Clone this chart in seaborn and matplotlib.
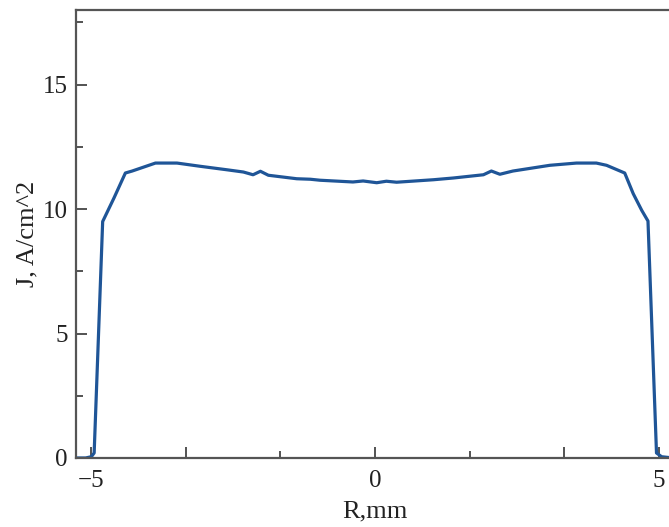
import matplotlib
matplotlib.use("Agg")
import pandas as pd
import matplotlib.pyplot as plt
import seaborn as sns
from matplotlib.ticker import FixedLocator

r_mm = [-5.25, -5.1, -5.0, -4.95, -4.8, -4.6, -4.4, -4.28, -3.87, -3.49, -3.08,
        -2.61, -2.32, -2.15, -2.02, -1.88, -1.38, -1.14, -0.97, -0.39, -0.21,
        0.03, 0.2, 0.38, 1.03, 1.38, 1.91, 2.05, 2.2, 2.43, 3.08, 3.55, 3.9,
        4.08, 4.4, 4.55, 4.7, 4.81, 4.96, 5.05, 5.25]
j_acm2 = [0.0, 0.0, 0.05, 0.2, 9.5, 10.45, 11.45, 11.53, 11.85, 11.85, 11.72,
          11.58, 11.49, 11.38, 11.52, 11.36, 11.22, 11.2, 11.16, 11.09, 11.13,
          11.06, 11.12, 11.08, 11.18, 11.25, 11.38, 11.53, 11.4, 11.53, 11.76,
          11.85, 11.85, 11.76, 11.45, 10.62, 9.95, 9.52, 0.2, 0.05, 0.0]

df = pd.DataFrame({'R': r_mm, 'J': j_acm2})

sns.set_style("ticks")
plt.rcParams['font.family'] = ['Liberation Serif', 'DejaVu Serif']

fig = plt.figure(figsize=(6.69, 5.27), dpi=100)
ax = fig.add_axes([0.1136, 0.131, 0.894, 0.850])

sns.lineplot(data=df, x='R', y='J', ax=ax, color='#1f5597', linewidth=2.3, sort=False)

ax.set_xlim(-5.27, 5.27)
ax.set_ylim(0, 18)

ax.xaxis.set_major_locator(FixedLocator([-5, -10/3, 0, 10/3, 5]))
ax.set_xticklabels(['\u22125', '', '0', '', '5'])
ax.xaxis.set_minor_locator(FixedLocator([-5/3, 5/3]))
ax.set_yticks([0, 5, 10, 15])
ax.yaxis.set_minor_locator(FixedLocator([2.5, 7.5, 12.5, 17.5]))

ax.tick_params(which='major', direction='in', length=8, width=1.3, color='#444444',
               labelsize=18, pad=6, labelcolor='#222222')
ax.tick_params(which='minor', direction='in', length=5, width=1.3, color='#444444')
ax.tick_params(axis='x', which='major', pad=9)

for s in ax.spines.values():
    s.set_color('#555555')
    s.set_linewidth(1.6)

ax.set_xlabel('R,mm', fontsize=19, labelpad=6, color='#222222')
ax.set_ylabel('J, A/cm^2', fontsize=19, labelpad=3, color='#222222')

fig.savefig('out.png', dpi=100)
